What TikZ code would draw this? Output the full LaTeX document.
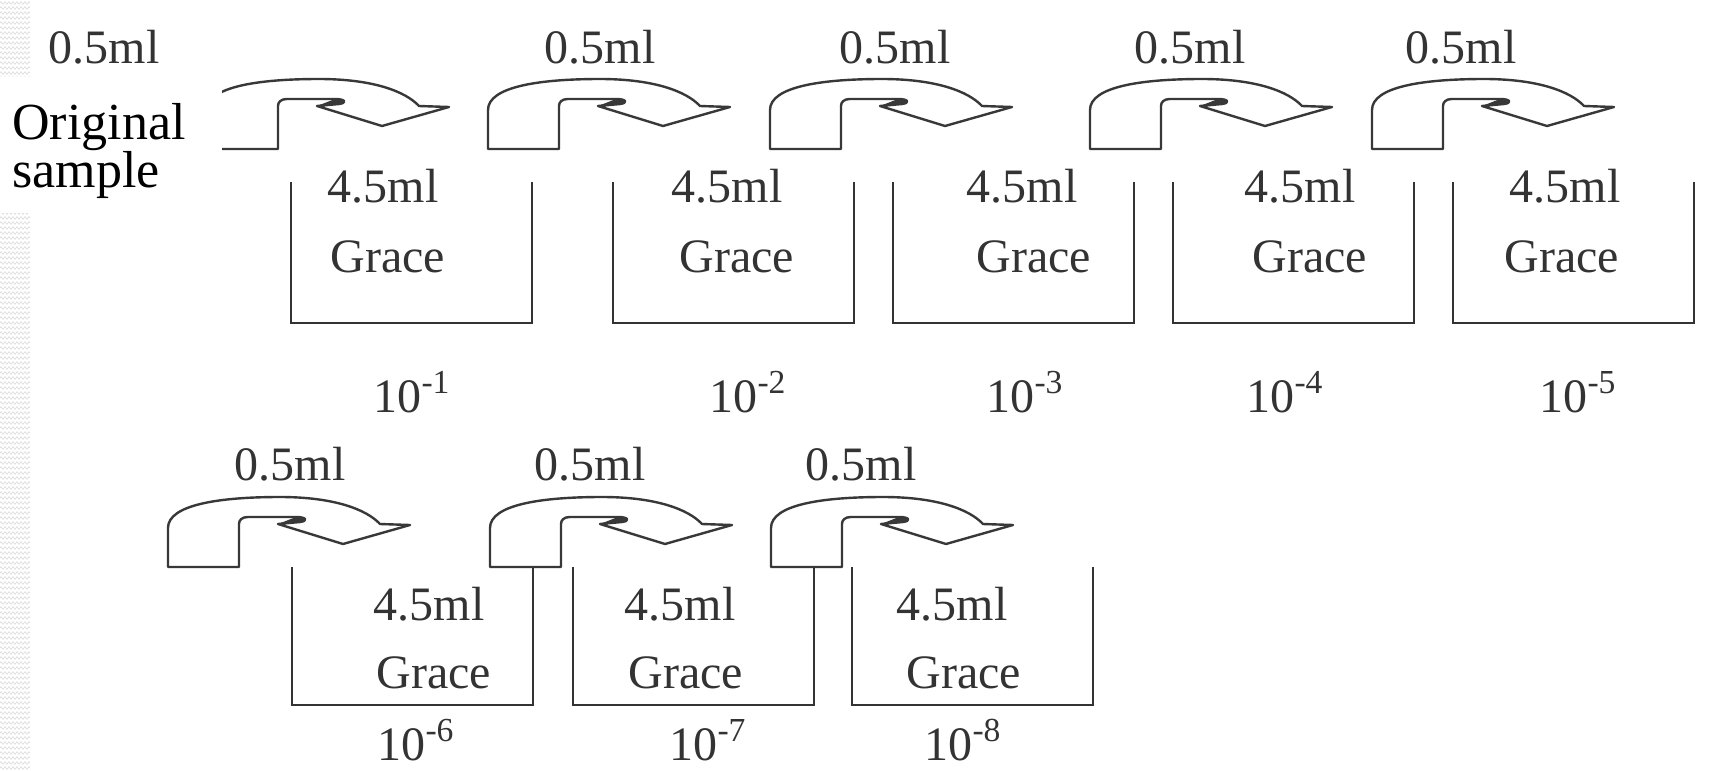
\documentclass[tikz,border=0pt]{standalone}
\usepackage{fontspec}
\setmainfont{Liberation Serif}
\usetikzlibrary{decorations.pathmorphing}

\begin{document}
\begin{tikzpicture}[x=0.5pt, y=-0.5pt]

\tikzset{
  pour line/.style={draw=black!78, line width=1.2pt, fill=white, line join=round},
  beaker/.style={draw=black!80, line width=1.4pt},
  label text/.style={font=\fontsize{24}{28}\selectfont, text=black!80, inner sep=0pt, anchor=base},
  sample text/.style={font=\fontsize{26}{24}\selectfont, inner sep=0pt, anchor=base west},
  hatch/.style={draw=black!14, line width=0.3pt, decorate,
    decoration={zigzag, segment length=2pt, amplitude=0.7pt}},
  pics/pour/.style={code={
    \path[pour line] (0,0) -- (0,-39)
      .. controls (0,-62) and (50,-70) .. (112,-70)
      .. controls (165,-70) and (198,-58) .. (212,-43)
      -- (242,-42) -- (175,-23) -- (110,-43)
      -- (132,-45) .. controls (140,-46) and (139,-50) .. (128,-50)
      -- (80,-50) .. controls (74,-50) and (71,-47) .. (71,-43)
      -- (71,0) -- cycle;
    % the fold where the arrow turns under
    \fill[black!78] (110,-43) -- (132,-45)
      .. controls (140,-46) and (139,-50) .. (128,-50) -- cycle;
  }}
}

\useasboundingbox (0,0) rectangle (1721,771);

% faint wavy strip down the left edge
\foreach \y in {3,8,...,768}
  \draw[hatch] (0,\y) -- (30,\y);

% first row, 10^-1 to 10^-5
\foreach \n/\ax/\lx/\bx/\sx/\gx/\ex in {
    1/207/104/291/383/388/412,
    2/488/600/613/727/737/748,
    3/770/895/893/1022/1034/1025,
    4/1090/1190/1173/1300/1310/1285,
    5/1372/1461/1453/1565/1562/1578} {
  \draw[beaker] (\bx,182) -- (\bx,323) -- ++(241,0) -- ++(0,-141);
  \pic at (\ax,149) {pour};
  \node[label text] (vol\n) at (\lx,63) {0.5ml};
  \node[label text] (stock\n) at (\sx,202) {4.5ml};
  \node[label text] (grace\n) at (\gx,272) {Grace};
  \node[label text] (dil\n) at (\ex,412) {10\textsuperscript{-\n}};
}

% second row, 10^-6 to 10^-8
\foreach \n/\ax/\lx/\bx/\sx/\gx/\ex in {
    6/168/290/292/429/434/416,
    7/490/590/573/680/686/708,
    8/771/861/852/952/964/963} {
  \draw[beaker] (\bx,567) -- (\bx,705) -- ++(241,0) -- ++(0,-138);
  \pic at (\ax,567) {pour};
  \node[label text] (vol\n) at (\lx,480) {0.5ml};
  \node[label text] (stock\n) at (\sx,620) {4.5ml};
  \node[label text] (grace\n) at (\gx,688) {Grace};
  \node[label text] (dil\n) at (\ex,760) {10\textsuperscript{-\n}};
}

% box for the starting sample, laid over the first pour
\fill[white] (0,77) rectangle (222,213);
\node[sample text] (orig) at (12,139) {Original};
\node[sample text] (origb) at (12,187) {sample};

\end{tikzpicture}
\end{document}
